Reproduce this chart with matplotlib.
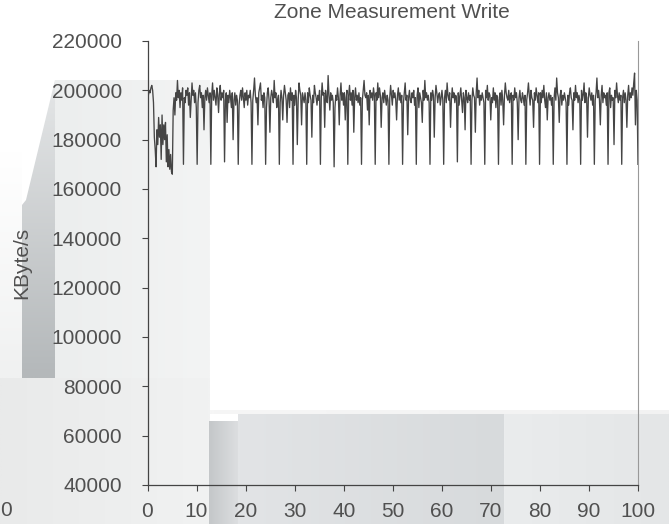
import numpy as np
import matplotlib
matplotlib.use("Agg")
import matplotlib.pyplot as plt
from matplotlib.patches import Polygon

plt.rcParams['font.family'] = ['Liberation Sans', 'DejaVu Sans']

# write throughput, in thousands of KByte/s, sampled evenly over 0..100
write_k = [
    173, 198, 200, 199, 201, 202, 200, 195, 181, 176, 169, 184, 178, 189, 181,
    186, 172, 190, 178, 186, 180, 187, 171, 182, 169, 176, 168, 174, 167, 166,
    192, 197, 190, 199, 196, 204, 197, 200, 193, 199, 196, 201,
    170, 197, 195, 200, 198, 201, 194, 199, 189, 196, 203, 198, 200, 195, 199, 193,
    170, 195, 200, 202, 197, 199, 193, 198, 184, 197, 200, 196, 201, 198, 195, 199,
    170, 198, 203, 196, 200, 197, 194, 201, 198, 191, 199, 202, 196, 199, 197, 200,
    171, 196, 199, 187, 198, 195, 200, 197, 193, 199, 180, 196, 199, 194, 198, 196,
    170, 194, 198, 200, 196, 201, 197, 193, 199, 196, 200, 194, 198, 197, 200, 195,
    170, 196, 200, 205, 198, 195, 197, 186, 199, 201, 203, 196, 198, 193, 199, 197,
    170, 193, 199, 201, 196, 183, 197, 200, 198, 195, 204, 197, 199, 193, 196, 198,
    170, 195, 200, 197, 188, 198, 202, 199, 196, 187, 198, 199, 193, 201, 196, 199,
    170, 198, 194, 200, 197, 178, 196, 203, 200, 198, 186, 199, 197, 195, 199, 196,
    170, 199, 195, 201, 198, 196, 181, 198, 195, 202, 199, 197, 194, 198, 196, 200,
    170, 197, 203, 198, 199, 185, 200, 196, 195, 206, 198, 192, 199, 196, 198, 195,
    169, 193, 198, 196, 201, 197, 186, 198, 203, 196, 199, 194, 199, 188, 197, 200,
    170, 198, 202, 196, 199, 194, 200, 183, 197, 201, 196, 198, 195, 199, 194, 197,
    170, 196, 200, 204, 198, 197, 199, 192, 198, 186, 200, 197, 199, 196, 201, 198,
    170, 199, 196, 203, 197, 201, 198, 185, 197, 199, 195, 200, 197, 194, 198, 196,
    170, 197, 202, 198, 194, 200, 197, 199, 196, 188, 198, 201, 196, 199, 195, 198,
    170, 195, 199, 203, 196, 198, 182, 197, 200, 196, 195, 199, 197, 200, 194, 197,
    170, 198, 201, 193, 199, 197, 195, 187, 200, 196, 204, 197, 199, 196, 198, 195,
    170, 199, 196, 200, 198, 181, 197, 202, 199, 195, 198, 199, 194, 197, 200, 196,
    170, 197, 200, 195, 203, 198, 196, 199, 185, 196, 201, 197, 199, 195, 198, 197,
    171, 199, 194, 198, 201, 196, 191, 199, 197, 184, 200, 197, 195, 199, 196, 198,
    170, 196, 201, 198, 197, 183, 199, 205, 197, 200, 194, 198, 196, 199, 197, 195,
    170, 200, 197, 202, 196, 199, 198, 188, 197, 195, 201, 196, 199, 193, 198, 196,
    170, 197, 199, 194, 200, 196, 186, 198, 203, 199, 197, 196, 200, 195, 198, 199,
    170, 198, 196, 201, 197, 199, 195, 180, 197, 200, 196, 195, 199, 197, 194, 198,
    170, 196, 199, 203, 198, 194, 200, 197, 196, 185, 199, 196, 201, 198, 195, 199,
    170, 199, 195, 200, 197, 202, 196, 193, 199, 188, 197, 199, 196, 198, 194, 197,
    170, 197, 201, 196, 205, 199, 197, 187, 198, 200, 194, 198, 196, 199, 197, 195,
    170, 198, 194, 199, 201, 197, 196, 184, 199, 196, 202, 197, 199, 195, 198, 196,
    170, 200, 196, 198, 203, 195, 199, 197, 181, 197, 201, 198, 196, 199, 194, 198,
    170, 196, 199, 205, 197, 200, 196, 186, 198, 202, 195, 199, 197, 198, 194, 199,
    170, 199, 201, 193, 198, 196, 197, 178, 200, 197, 203, 198, 195, 199, 196, 198,
    170, 197, 200, 195, 199, 196, 185, 198, 202, 196, 199, 197, 201, 198, 203, 207,
    186, 200, 196, 170,
]
x_ticks = [0, 10, 20, 30, 40, 50, 60, 70, 80, 90, 100]
y_ticks = [40000, 60000, 80000, 100000, 120000, 140000, 160000, 180000, 200000, 220000]
title = "Zone Measurement Write"
ylabel = "KByte/s"

W, H = 669, 524
fig = plt.figure(figsize=(W / 100, H / 100), dpi=100)
fig.patch.set_facecolor("white")

# grey backdrop shapes behind the chart (pixel coords, y down)
bg = fig.add_axes([0, 0, 1, 1], zorder=0)
bg.set_xlim(0, W)
bg.set_ylim(H, 0)
bg.axis("off")


def grad(x0, x1, y0, y1, c0, c1, horizontal=True, clip=None):
    c0 = np.array(matplotlib.colors.to_rgb(c0))
    c1 = np.array(matplotlib.colors.to_rgb(c1))
    t = np.linspace(0, 1, 64)
    cols = c0[None, :] * (1 - t[:, None]) + c1[None, :] * t[:, None]
    img = cols[None, :, :] if horizontal else cols[:, None, :]
    im = bg.imshow(img, extent=(x0, x1, y1, y0), aspect="auto",
                   interpolation="bilinear")
    if clip is not None:
        p = Polygon(clip, closed=True, transform=bg.transData)
        im.set_clip_path(p)


grad(0, 22, 150, 378, "#ffffff", "#f0f1f1", horizontal=False)
grad(0, 210, 378, H, "#e9eaea", "#f1f2f2")
grad(55, 210, 80, 378, "#eceeee", "#f3f4f4")
grad(10, 55, 80, 378, "#e4e6e7", "#b4b8ba", horizontal=False,
     clip=[(55, 80), (55, 378), (22, 378), (22, 205), (26, 200)])
grad(210, W, 410, 414, "#f6f6f6", "#f2f2f2")
grad(238, 504, 414, H, "#e2e4e6", "#d7dadc")
grad(504, W, 414, H, "#eaeced", "#e4e6e7")
grad(209, 238, 421, H, "#c4c7c9", "#dcdee0")

ax = fig.add_axes([147.5 / W, 1 - 485 / H, (638 - 147.5) / W, (485 - 41) / H],
                  zorder=1)
ax.patch.set_alpha(0)

x = np.linspace(0, 100, len(write_k))
ax.plot(x, np.array(write_k) * 1000, color="#454545", lw=0.95)

ax.set_xlim(0, 100)
ax.set_ylim(40000, 220000)
ax.set_xticks(x_ticks)
ax.set_yticks(y_ticks)
txt = "#505050"
ax.tick_params(axis="y", direction="out", length=4.5, width=0.8, pad=14,
               labelsize=15, labelcolor=txt, color="#444444")
ax.tick_params(axis="x", direction="out", length=4.5, width=0.8, pad=8,
               labelsize=15, labelcolor=txt, color="#444444")
for s in ["left", "bottom"]:
    ax.spines[s].set_color("#444444")
    ax.spines[s].set_linewidth(0.9)
ax.spines["right"].set_color("#999999")
ax.spines["top"].set_visible(False)

fig.text(392 / W, 1 - 12 / H, title, ha="center", va="center",
         fontsize=15, color=txt)
fig.text(22 / W, 1 - 263 / H, ylabel, rotation=90, ha="center", va="center",
         fontsize=15, color=txt)
# stray tick label at the left edge
fig.text(0, 1 - 510 / H, "0", ha="left", va="center", fontsize=15,
         color=txt)

fig.savefig("out.png", dpi=100)
